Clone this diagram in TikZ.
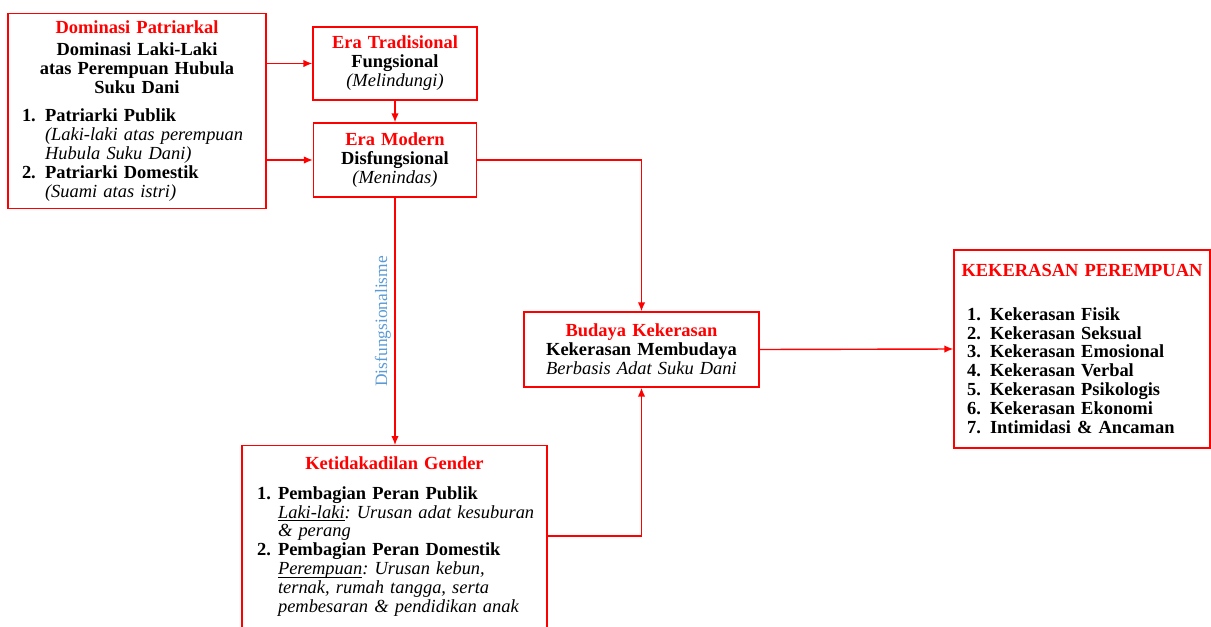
\documentclass[tikz,border=0pt]{standalone}
\usepackage{fontspec}
\setmainfont{Liberation Serif}
\usetikzlibrary{positioning,arrows.meta}
\definecolor{biru}{RGB}{91,155,213}
\newlength{\nomorlebar}
\newcommand{\nomor}[1]{\hangindent=\nomorlebar\hangafter=1\noindent\makebox[\nomorlebar][l]{#1}}
\newcommand{\miring}{\mdseries\itshape}
\newcommand{\garis}[1]{\underline{\smash{#1}}}
\frenchspacing

\begin{document}
\begin{tikzpicture}[x=0.02cm, y=-0.02cm, >={Latex[length=1.8mm,width=1.5mm]}, font=\fontsize{10.5}{10.8}\selectfont\bfseries]
	\tikzstyle{kotak} = [draw=red, line width=0.8pt, inner ysep=4pt, align=left];
	\tikzstyle{panah} = [->, draw=red, line width=0.8pt];
	\useasboundingbox (0,0) rectangle (1211,626);

	\node [kotak, text width=4.6cm, inner xsep=0.28cm, minimum height=3.88cm] (dom) at (137,111) {%
		\setlength{\nomorlebar}{0.46cm}%
		{\centering\textcolor{red}{Dominasi Patriarkal}\\[0.06cm]
		Dominasi Laki-Laki\\ atas Perempuan Hubula\\ Suku Dani\par}
		\vspace{0.18cm}
		\nomor{1.}Patriarki Publik\newline {\miring\mbox{(Laki-laki atas perempuan}\newline Hubula Suku Dani)}\par
		\nomor{2.}Patriarki Domestik\newline {\miring(Suami atas istri)}\par};
	\node [kotak, align=center, text width=3.08cm, inner xsep=0.1cm, minimum height=1.46cm] (trad) at (395,63.5)
		{\textcolor{red}{Era Tradisional}\\ Fungsional\\ {\miring(Melindungi)}};
	\node [kotak, align=center, text width=3.06cm, inner xsep=0.1cm, minimum height=1.48cm] (modern) at (395,160)
		{\textcolor{red}{Era Modern}\\ Disfungsional\\ {\miring(Menindas)}};
	\node [kotak, align=center, text width=4.5cm, inner xsep=0.1cm, minimum height=1.5cm] (budaya) at (641.5,349.5)
		{\textcolor{red}{Budaya Kekerasan}\\ Kekerasan Membudaya\\ {\miring Berbasis Adat Suku Dani}};
	\node [kotak, anchor=north, text width=5.9cm, inner xsep=0.1cm, inner ysep=6pt] (gender) at (394.5,445) {%
		\setlength{\nomorlebar}{0.42cm}%
		\makebox[\linewidth]{\textcolor{red}{Ketidakadilan Gender}}\par
		\vspace{0.22cm}
		\leftskip=0.2cm
		\nomor{1.}Pembagian Peran Publik\newline {\miring\mbox{\garis{Laki-laki}: Urusan adat kesuburan}\newline \& perang}\par
		\nomor{2.}Pembagian Peran Domestik\newline {\miring\mbox{\garis{Perempuan}: Urusan kebun,}\newline \mbox{ternak, rumah tangga, serta}\newline \mbox{pembesaran \& pendidikan anak}}\par
		\vspace*{0.6cm}};
	\node [kotak, text width=4.6cm, inner xsep=0.26cm, minimum height=3.96cm] (kekerasan) at (1082,349) {%
		\setlength{\nomorlebar}{0.46cm}%
		\makebox[\linewidth]{\textcolor{red}{KEKERASAN PEREMPUAN}}\par
		\vspace{0.5cm}
		\nomor{1.}Kekerasan Fisik\par
		\nomor{2.}Kekerasan Seksual\par
		\nomor{3.}Kekerasan Emosional\par
		\nomor{4.}Kekerasan Verbal\par
		\nomor{5.}Kekerasan Psikologis\par
		\nomor{6.}Kekerasan Ekonomi\par
		\nomor{7.}Intimidasi \& Ancaman\par};

	\draw [panah] (dom.east |- trad.west) -- (trad.west);
	\draw [panah] (dom.east |- modern.west) -- (modern.west);
	\draw [panah] (trad) -- (modern);
	\draw [panah] (modern.east) -| (budaya.north);
	\draw [panah] (modern.south) -- (modern.south |- gender.north)
		node [midway, rotate=90, anchor=south, inner sep=2pt, text=biru, font=\fontsize{9.9}{10}\selectfont\mdseries] {Disfungsionalisme};
	\draw [panah] ([yshift=-1.82cm]gender.north east) -| (budaya.south);
	\draw [panah] (budaya.east) -- (kekerasan.west);
\end{tikzpicture}
\end{document}
